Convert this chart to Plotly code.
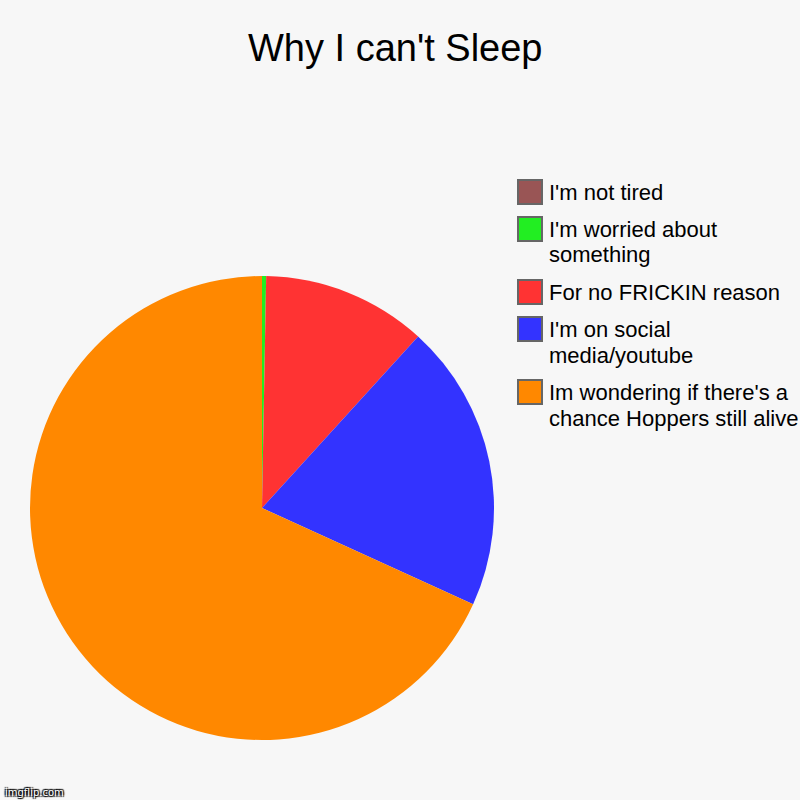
import plotly.graph_objects as go

# ---- data ----
labels = ["I'm not tired", "I'm worried about something", "For no FRICKIN reason",
          "I'm on social media/youtube", "Im wondering if there's a chance Hoppers still alive"]
legend_lines = [["I'm not tired"], ["I'm worried about", "something"], ["For no FRICKIN reason"],
                ["I'm on social", "media/youtube"], ["Im wondering if there's a", "chance Hoppers still alive"]]
values = [0, 1, 40, 70, 238]
colors = ["#995555", "#22ee22", "#ff3333", "#3333ff", "#ff8800"]
title = "Why I can't Sleep"

W, H = 800, 800
FONT = "Liberation Sans, Arial, sans-serif"

fig = go.Figure()
fig.add_trace(go.Pie(
    labels=labels, values=values, sort=False, direction="clockwise", rotation=0,
    marker=dict(colors=colors, line=dict(width=0)),
    textinfo="none", hoverinfo="label+value+percent", showlegend=False,
    domain=dict(x=[30 / W, 494 / W], y=[1 - 740 / H, 1 - 276 / H]),
))

# manual legend (swatch + text lines)
shapes, annotations = [], []
sw = 24          # swatch size px
line_h = 26      # px per text line
gap = 10         # px between items
y = 180          # top of first swatch, px
for lines, col in zip(legend_lines, colors):
    shapes.append(dict(type="rect", xref="paper", yref="paper",
                       x0=518 / W, x1=(518 + sw) / W,
                       y0=1 - y / H, y1=1 - (y + sw) / H,
                       fillcolor=col, line=dict(color="#666666", width=2)))
    for i, ln in enumerate(lines):
        cy = y + sw / 2 + i * line_h
        annotations.append(dict(text=ln, xref="paper", yref="paper",
                                x=547 / W, y=1 - cy / H,
                                xanchor="left", yanchor="middle", align="left",
                                showarrow=False, font=dict(family=FONT, size=22, color="#000000")))
    y += sw + (len(lines) - 1) * line_h + gap + 3

annotations.append(dict(text=title, xref="paper", yref="paper", x=395 / W, y=1 - 48 / H,
                        xanchor="center", yanchor="middle", showarrow=False,
                        font=dict(family=FONT, size=38, color="#000000")))
annotations.append(dict(text="imgflip.com", xref="paper", yref="paper", x=3 / W, y=1 - 792 / H,
                        xanchor="left", yanchor="middle", showarrow=False,
                        font=dict(family="DejaVu Sans, sans-serif", size=10, color="#ffffff",
                                  shadow="1px 1px 1px #000, -1px -1px 1px #000, 1px -1px 1px #000, -1px 1px 1px #000")))

fig.update_layout(width=W, height=H, margin=dict(l=0, r=0, t=0, b=0),
                  paper_bgcolor="#f7f7f7", plot_bgcolor="#f7f7f7",
                  shapes=shapes, annotations=annotations)
fig.write_html("out.html", config={"displayModeBar": False},
               post_script="document.body.style.margin='0';document.body.style.overflow='hidden';")
